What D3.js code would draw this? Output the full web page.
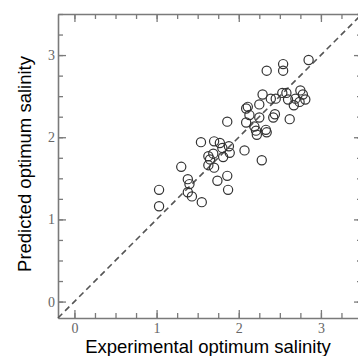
<!DOCTYPE html>
<html>
<head>
<meta charset="utf-8">
<script src="https://cdn.jsdelivr.net/npm/d3@7"></script>
<style>
    body { margin: 0; background: #fff; }
    svg { display: block; }
</style>
</head>
<body>
<svg id="chart" width="358" height="356"></svg>
<script>
"use strict";

// Experimental vs predicted optimum salinity
const experimental = [
    1.03, 1.03, 1.30, 1.40, 1.38, 1.38, 1.43, 1.55, 1.63, 1.70,
    1.63, 1.65, 1.69, 1.81, 1.89, 1.88, 1.80, 1.77, 1.70, 1.54,
    1.74, 1.86, 1.87, 2.07, 2.28, 1.86, 2.09, 2.19, 2.21, 2.22,
    2.33, 2.34, 2.13, 2.25, 2.44, 2.42, 2.62, 2.11, 2.09, 2.25,
    2.29, 2.39, 2.45, 2.53, 2.58, 2.75, 2.78, 2.69, 2.81, 2.74,
    2.67, 2.60, 2.34, 2.54, 2.54, 2.85
];
const predicted = [
    1.36, 1.16, 1.64, 1.43, 1.49, 1.33, 1.28, 1.21, 1.66, 1.63,
    1.77, 1.73, 1.80, 1.76, 1.81, 1.89, 1.87, 1.93, 1.95, 1.94,
    1.47, 1.53, 1.36, 1.84, 1.72, 2.19, 2.18, 2.13, 2.08, 2.03,
    2.09, 2.06, 2.27, 2.24, 2.28, 2.24, 2.22, 2.37, 2.35, 2.40,
    2.52, 2.47, 2.47, 2.54, 2.54, 2.57, 2.52, 2.47, 2.46, 2.43,
    2.39, 2.46, 2.81, 2.89, 2.81, 2.94
];
const majorTicks = [0, 1, 2, 3];
const domain = [-0.2, 3.5];
const xTitle = "Experimental optimum salinity";
const yTitle = "Predicted optimum salinity";

const margin = {left: 58, top: 14};
const size = 304;

function drawChart() {
    let svg = d3.select('#chart');
    let x = d3.scaleLinear().domain(domain).range([margin.left, margin.left + size]);
    let y = d3.scaleLinear().domain(domain).range([margin.top + size, margin.top]);
    let minorTicks = d3.range(-0.25, 3.6, 0.25).filter(v => v >= domain[0] && v <= domain[1]);

    let frame = svg.append('g');
    // inward ticks on all four sides
    let sides = [
        {axis: d3.axisBottom(x), at: `translate(0,${y.range()[0]})`, pad: 5},
        {axis: d3.axisTop(x), at: `translate(0,${y.range()[1]})`, pad: 3},
        {axis: d3.axisLeft(y), at: `translate(${x.range()[0]},0)`, pad: 3},
        {axis: d3.axisRight(y), at: `translate(${x.range()[1]},0)`, pad: 3}
    ];
    sides.forEach((s, i) => {
        let minor = frame.append('g')
            .attr('transform', s.at)
            .call(s.axis.tickValues(minorTicks).tickSize(-5).tickFormat(''));
        minor.select('.domain').remove();
        let major = frame.append('g')
            .attr('transform', s.at)
            .call(s.axis.tickValues(majorTicks).tickSizeInner(-8).tickSizeOuter(0)
                .tickPadding(s.pad)
                .tickFormat(i === 0 || i === 2 ? d3.format('d') : ''));
        frame.selectAll('line').attr('stroke', '#7a7a7a').attr('stroke-width', 1.3);
        frame.selectAll('.domain').attr('stroke', '#7a7a7a').attr('stroke-width', 1.6);
        major.selectAll('text')
            .attr('font-family', '"Liberation Serif", "Times New Roman", serif')
            .attr('font-size', 14)
            .attr('fill', '#666');
    });

    // y = x reference
    svg.append('line')
        .attr('x1', x(domain[0]))
        .attr('y1', y(domain[0]))
        .attr('x2', x(domain[1]))
        .attr('y2', y(domain[1]))
        .attr('stroke', '#555')
        .attr('stroke-width', 1.6)
        .attr('stroke-dasharray', '6,4');

    svg.append('g').selectAll('circle')
        .data(experimental.map((e, i) => [e, predicted[i]]))
        .join('circle')
        .attr('cx', d => x(d[0]))
        .attr('cy', d => y(d[1]))
        .attr('r', 4.6)
        .attr('fill', 'none')
        .attr('stroke', '#333')
        .attr('stroke-width', 1.2);

    svg.append('text')
        .attr('x', 208)
        .attr('y', 353)
        .attr('text-anchor', 'middle')
        .attr('font-family', '"Liberation Sans", Arial, sans-serif')
        .attr('font-size', 18.5)
        .text(xTitle);
    svg.append('text')
        .attr('transform', `translate(31,${164}) rotate(-90)`)
        .attr('text-anchor', 'middle')
        .attr('font-family', '"Liberation Sans", Arial, sans-serif')
        .attr('font-size', 18.5)
        .text(yTitle);
}

drawChart();
</script>
</body>
</html>
